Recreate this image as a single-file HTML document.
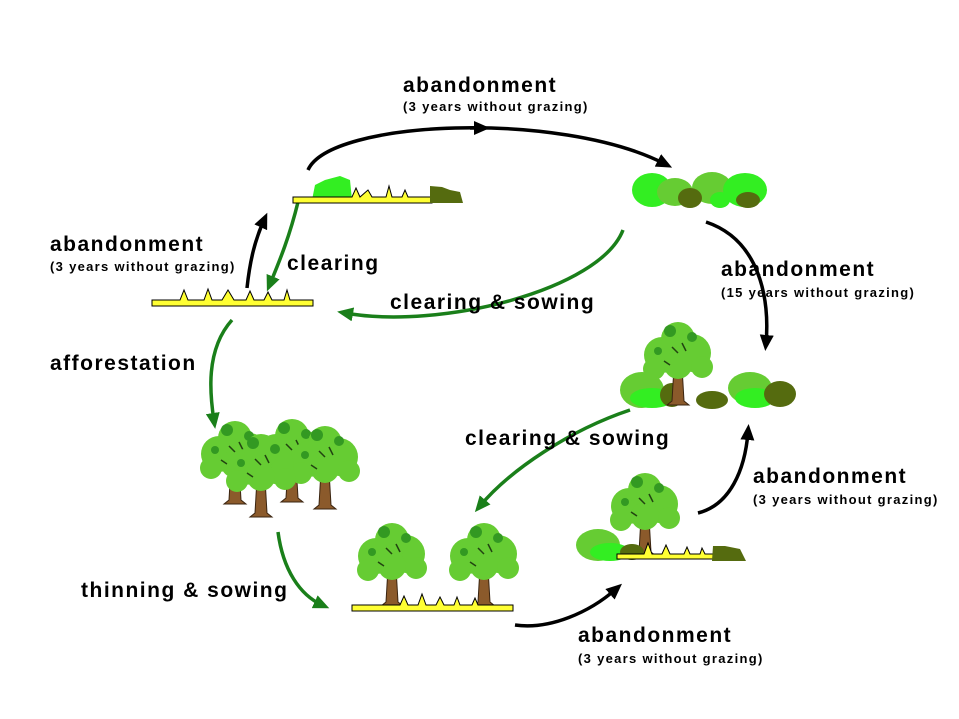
<!DOCTYPE html>
<html><head><meta charset="utf-8"><style>
html,body{margin:0;padding:0;background:#fff;}
svg{display:block;}
text{font-family:"Liberation Sans",Arial,sans-serif;font-weight:bold;fill:#000;}
.b{font-size:21px;letter-spacing:1.5px;}
.s{font-size:13px;letter-spacing:1.3px;}
</style></head><body>
<svg width="959" height="719" viewBox="0 0 959 719" xmlns="http://www.w3.org/2000/svg">
<defs>
<marker id="ak" markerWidth="16" markerHeight="14" refX="8" refY="7" orient="auto" markerUnits="userSpaceOnUse" viewBox="0 0 16 14"><path d="M0,0 L16,7 L0,14 Z" fill="#000"/></marker>
<marker id="ag" markerWidth="16" markerHeight="14" refX="8" refY="7" orient="auto" markerUnits="userSpaceOnUse" viewBox="0 0 16 14"><path d="M0,0 L16,7 L0,14 Z" fill="#1a7f1a"/></marker>
<g id="tree">
<path d="M-4,-38 L4,-38 L6,-4 L11,0 L-11,0 L-6,-4 Z" fill="#8b5a2b" stroke="#3a2410" stroke-width="1"/>
<circle cx="-16" cy="-50" r="18" fill="#66cc33"/>
<circle cx="14" cy="-52" r="19" fill="#66cc33"/>
<circle cx="0" cy="-66" r="17" fill="#66cc33"/>
<circle cx="-24" cy="-36" r="11" fill="#66cc33"/>
<circle cx="24" cy="-38" r="11" fill="#66cc33"/>
<circle cx="0" cy="-40" r="14" fill="#66cc33"/>
<circle cx="-8" cy="-74" r="6" fill="#339922"/>
<circle cx="14" cy="-68" r="5" fill="#339922"/>
<circle cx="-20" cy="-54" r="4" fill="#339922"/>
<path d="M-6,-58 l6,6 M4,-62 l4,8 M-14,-44 l6,4" stroke="#224411" stroke-width="1.5"/>
</g>
</defs>

<g fill="none" stroke-width="3.5">
<path d="M308,170 C330,120 560,110 665,164" stroke="#000" marker-end="url(#ak)"/>
<path d="M470,128 L482,128" stroke="#000" marker-end="url(#ak)"/>
<path d="M247,288 C250,260 255,240 264,220" stroke="#000" marker-end="url(#ak)"/>
<path d="M298,202 C290,235 280,260 270,284" stroke="#1a7f1a" marker-end="url(#ag)"/>
<path d="M623,230 C600,290 440,330 345,313" stroke="#1a7f1a" marker-end="url(#ag)"/>
<path d="M706,222 C760,240 770,300 766,343" stroke="#000" marker-end="url(#ak)"/>
<path d="M232,320 C205,350 210,395 214,421" stroke="#1a7f1a" marker-end="url(#ag)"/>
<path d="M630,410 C570,430 510,470 480,506" stroke="#1a7f1a" marker-end="url(#ag)"/>
<path d="M698,513 C730,505 745,470 748,432" stroke="#000" marker-end="url(#ak)"/>
<path d="M278,532 C283,570 300,595 322,605" stroke="#1a7f1a" marker-end="url(#ag)"/>
<path d="M515,625 C550,630 590,612 616,589" stroke="#000" marker-end="url(#ak)"/>
</g>

<path d="M312,200 L315,185 L325,180 L340,176 L350,180 L352,200 Z" fill="#33ee22"/>
<path d="M293,197 L352,197 L356,188 L360,197 L368,190 L372,197 L386,197 L389,186 L392,197 L402,197 L405,190 L408,197 L432,197 L432,203 L293,203 Z" fill="#ffff33" stroke="#000" stroke-width="1"/>
<path d="M430,203 L430,186 L442,187 L450,190 L460,192 L463,203 Z" fill="#556b0f"/>

<path d="M152,300 L180,300 L184,290 L188,300 L204,300 L208,289 L212,300 L222,300 L228,290 L234,300 L246,300 L250,291 L254,300 L264,300 L268,292 L272,300 L284,300 L287,290 L290,300 L313,300 L313,306 L152,306 Z" fill="#ffff33" stroke="#000" stroke-width="1"/>

<g>
<ellipse cx="652" cy="190" rx="20" ry="17" fill="#33ee22"/>
<ellipse cx="675" cy="192" rx="18" ry="14" fill="#66cc33"/>
<ellipse cx="712" cy="188" rx="20" ry="16" fill="#66cc33"/>
<ellipse cx="745" cy="190" rx="22" ry="17" fill="#33ee22"/>
<ellipse cx="690" cy="198" rx="12" ry="10" fill="#556b0f"/>
<ellipse cx="720" cy="200" rx="10" ry="8" fill="#33ee22"/>
<ellipse cx="748" cy="200" rx="12" ry="8" fill="#556b0f"/>
</g>

<g>
<ellipse cx="642" cy="390" rx="22" ry="18" fill="#66cc33"/>
<ellipse cx="652" cy="398" rx="22" ry="10" fill="#33ee22"/>
<ellipse cx="672" cy="395" rx="12" ry="12" fill="#556b0f"/>
<use href="#tree" x="678" y="405"/>
<ellipse cx="712" cy="400" rx="16" ry="9" fill="#556b0f"/>
<ellipse cx="750" cy="388" rx="22" ry="16" fill="#66cc33"/>
<ellipse cx="755" cy="398" rx="20" ry="10" fill="#33ee22"/>
<ellipse cx="780" cy="394" rx="16" ry="13" fill="#556b0f"/>
</g>

<use href="#tree" x="235" y="504"/>
<use href="#tree" x="292" y="502"/>
<use href="#tree" x="325" y="509"/>
<use href="#tree" x="261" y="517"/>

<use href="#tree" x="392" y="606"/>
<use href="#tree" x="484" y="606"/>
<path d="M352,605 L400,605 L404,596 L408,605 L418,605 L422,594 L426,605 L436,605 L440,597 L444,605 L454,605 L457,597 L460,605 L472,605 L475,598 L478,605 L513,605 L513,611 L352,611 Z" fill="#ffff33" stroke="#000" stroke-width="1"/>

<g>
<ellipse cx="598" cy="545" rx="22" ry="16" fill="#66cc33"/>
<ellipse cx="610" cy="552" rx="20" ry="9" fill="#33ee22"/>
<use href="#tree" x="645" y="556"/>
<ellipse cx="632" cy="552" rx="12" ry="8" fill="#556b0f"/>
<path d="M617,554 L644,554 L648,543 L652,554 L662,554 L666,545 L670,554 L684,554 L687,547 L690,554 L700,554 L702,548 L705,554 L720,554 L720,559 L617,559 Z" fill="#ffff33" stroke="#000" stroke-width="1"/>
<path d="M712,561 L713,546 L725,546 L740,549 L746,561 Z" fill="#556b0f"/>
</g>

<text class="b" x="403" y="92">abandonment</text>
<text class="s" x="403" y="111">(3 years without grazing)</text>
<text class="b" x="50" y="251">abandonment</text>
<text class="s" x="50" y="271">(3 years without grazing)</text>
<text class="b" x="287" y="270">clearing</text>
<text class="b" x="390" y="309">clearing &amp; sowing</text>
<text class="b" x="721" y="276">abandonment</text>
<text class="s" x="721" y="297">(15 years without grazing)</text>
<text class="b" x="50" y="370">afforestation</text>
<text class="b" x="465" y="445">clearing &amp; sowing</text>
<text class="b" x="753" y="483">abandonment</text>
<text class="s" x="753" y="504">(3 years without grazing)</text>
<text class="b" x="81" y="597">thinning &amp; sowing</text>
<text class="b" x="578" y="642">abandonment</text>
<text class="s" x="578" y="663">(3 years without grazing)</text>
</svg>
</body></html>
